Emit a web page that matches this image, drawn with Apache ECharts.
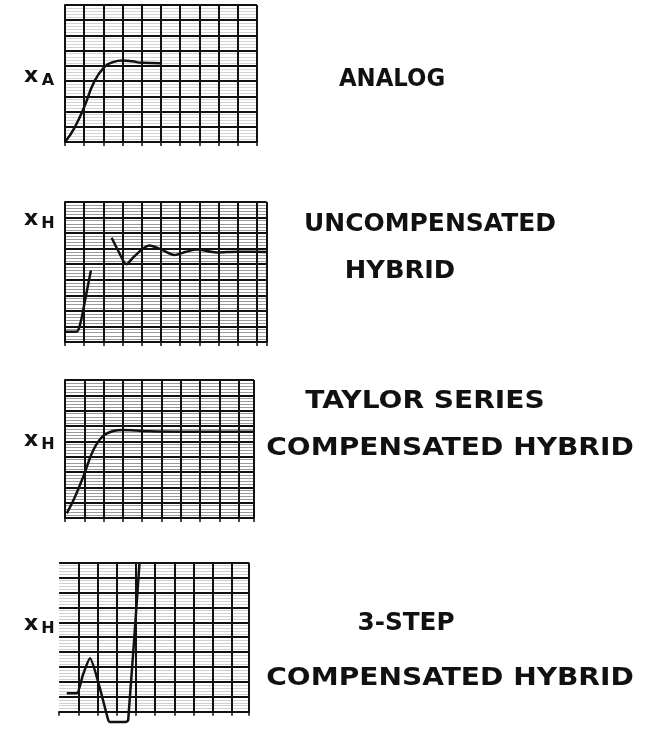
<!DOCTYPE html>
<html>
<head>
<meta charset="utf-8">
<script src="https://cdn.jsdelivr.net/npm/echarts@6/dist/echarts.min.js"></script>
<style>
    html, body { margin: 0; padding: 0; background: #fff; }
    #chart { width: 650px; height: 735px; }
</style>
</head>
<body>
<div id="chart"></div>
<script>
    const analogTrace = [[0.05, 0.08], [0.5, 0.95], [1.0, 2.3], [1.5, 3.9], [2.0, 4.85], [2.5, 5.25], [3.0, 5.35],
        [3.5, 5.3], [4.0, 5.2], [4.95, 5.18]];
    const uncompRise = [[0.05, 0.66], [0.6, 0.66], [0.8, 1.2], [1.0, 2.4], [1.35, 4.6]];
    const uncompSettle = [[2.43, 6.7], [2.8, 5.8], [3.2, 5.0], [3.6, 5.5], [4.4, 6.2], [5.0, 5.95], [5.7, 5.6],
        [6.3, 5.8], [6.86, 5.94], [7.9, 5.76], [9.0, 5.8], [10.5, 5.79]];
    const taylorTrace = [[0.09, 0.3], [0.52, 1.39], [0.95, 2.7], [1.47, 4.43], [1.98, 5.35], [2.5, 5.67], [3.0, 5.74],
        [3.7, 5.7], [4.4, 5.65], [6.0, 5.63], [9.8, 5.63]];
    const stepTrace = [[0.4, 1.23], [0.92, 1.23], [1.24, 2.46], [1.61, 3.58], [2.08, 1.79], [2.56, -0.56], [2.65, -0.69],
        [3.48, -0.69], [3.6, -0.56], [4.19, 10]];

    // axis extents (divisions) of each strip
    const xMax = [10, 10.5, 9.8, 9.9];
    const yMax = [9, 9, 9, 10];

    // lettering
    const traceNames = ['x', 'x', 'x', 'x'];
    const traceSubs = ['A', 'H', 'H', 'H'];
    const captions = ['ANALOG', 'UNCOMPENSATED', 'HYBRID', 'TAYLOR SERIES', 'COMPENSATED HYBRID', '3-STEP', 'COMPENSATED HYBRID'];

    const ink = '#111';
    const grids = [
        {left: 65, top: 5, width: 192, height: 137},
        {left: 65, top: 202, width: 201.6, height: 140},
        {left: 65, top: 380, width: 189, height: 138},
        {left: 59.1, top: 562.7, width: 190, height: 149}
    ];
    // paper hatching is darker on the 2nd and 3rd strips
    const hatch = ['#d4d4d4', '#9a9a9a', '#9a9a9a', '#d0d0d0'];

    const xAxes = grids.map((g, i) => ({
        type: 'value', gridIndex: i, min: 0, max: xMax[i], interval: 1,
        axisLabel: {show: false},
        axisLine: {show: true, onZero: false, lineStyle: {color: ink, width: 2}},
        axisTick: {show: true, length: 4, lineStyle: {color: ink, width: 1.5}},
        splitLine: {show: true, showMinLine: i !== 3, lineStyle: {color: ink, width: 2}}
    }));
    const yAxes = grids.map((g, i) => ({
        type: 'value', gridIndex: i, min: 0, max: yMax[i], interval: 1,
        axisLabel: {show: false},
        axisLine: {show: i !== 3, onZero: false, lineStyle: {color: ink, width: 2}},
        axisTick: {show: false},
        minorTick: {show: false, splitNumber: 5},
        minorSplitLine: {show: true, lineStyle: {color: hatch[i], width: 1}},
        splitLine: {show: true, lineStyle: {color: ink, width: 2}}
    }));

    function trace(data, i, smooth) {
        return {
            type: 'line', xAxisIndex: i, yAxisIndex: i, data: data,
            smooth: smooth, symbol: 'none', clip: false, z: 5,
            lineStyle: {color: ink, width: 2.5}
        };
    }

    // lettering positions
    const nameY = [76, 219, 440, 624];
    const capPos = [[392, 80, 0.95], [430, 225, 1.04], [400, 272, 1.07], [425, 402, 1.17],
        [450, 449, 1.17], [406, 624, 1.03], [450, 679, 1.17]];

    const graphic = [];
    nameY.forEach((y, i) => {
        graphic.push({
            type: 'text', x: 31, y: y,
            style: {text: traceNames[i], font: 'bold 22px "DejaVu Sans"', fill: ink, textAlign: 'center', textVerticalAlign: 'middle'}
        });
        graphic.push({
            type: 'text', x: 48, y: y + 5,
            style: {text: traceSubs[i], font: 'bold 16px "DejaVu Sans"', fill: ink, textAlign: 'center', textVerticalAlign: 'middle'}
        });
    });
    captions.forEach((t, i) => {
        graphic.push({
            type: 'text', x: capPos[i][0], y: capPos[i][1], scaleX: capPos[i][2],
            style: {text: t, font: 'bold 24px "DejaVu Sans"', fill: ink, textAlign: 'center', textVerticalAlign: 'middle'}
        });
    });

    const option = {
        animation: false,
        backgroundColor: '#fff',
        grid: grids,
        xAxis: xAxes,
        yAxis: yAxes,
        graphic: graphic,
        series: [
            trace(analogTrace, 0, 0.5),
            trace(uncompRise, 1, 0.3),
            trace(uncompSettle, 1, 0.3),
            trace(taylorTrace, 2, 0.4),
            trace(stepTrace, 3, 0.2)
        ]
    };

    const myChart = echarts.init(document.getElementById('chart'));
    myChart.setOption(option);
</script>
</body>
</html>
